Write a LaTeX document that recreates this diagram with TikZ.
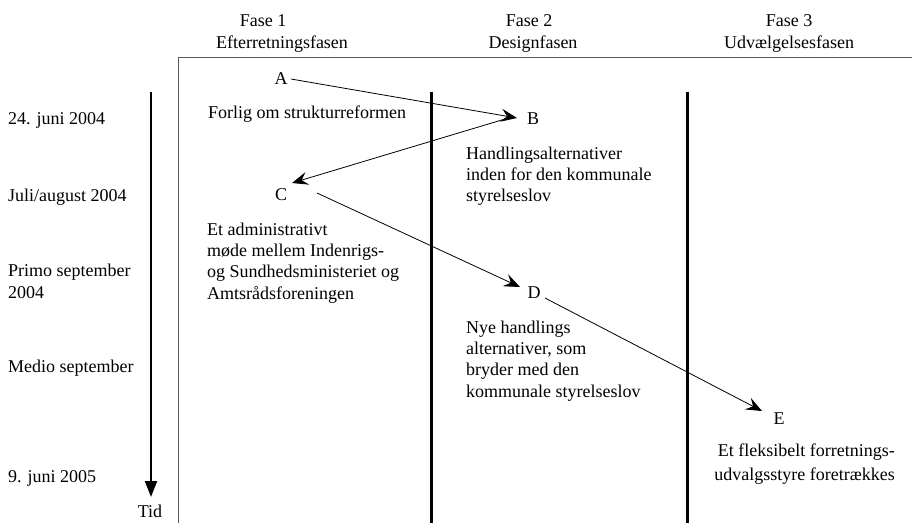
\documentclass[tikz,border=0pt]{standalone}
\usepackage{fontspec}
\setmainfont{Liberation Serif}
\usetikzlibrary{arrows.meta}
\begin{document}
\begin{tikzpicture}[x=1pt,y=-1pt,
  txt/.style={anchor=base west, inner sep=0pt, font=\fontsize{18}{21}\selectfont},
  rtxt/.style={anchor=base east, inner sep=0pt, font=\fontsize{18}{21}\selectfont},
  ctr/.style={anchor=base, inner sep=0pt, font=\fontsize{18}{21}\selectfont},
  conn/.style={line width=0.8pt, -{Stealth[length=16pt,width=13pt,inset=6pt]}},
  phase/.style={line width=3pt},
  frame/.style={draw=black!65, line width=1pt}]
\useasboundingbox (0,0) rectangle (912,523);
% headers
\node[ctr] (f1) at (263,26) {Fase 1};
\node[ctr] (f1b) at (282,48) {Efterretningsfasen};
\node[ctr] (f2) at (529,26) {Fase 2};
\node[ctr] (f2b) at (533,48) {Designfasen};
\node[ctr] (f3) at (789,26) {Fase 3};
\node[ctr] (f3b) at (789,48) {Udvælgelsesfasen};
% frame and phase lines
\draw[frame] (912,57) -- (178,57) -- (178,523);
\draw[phase] (431,92) -- (431,523);
\draw[phase] (687,92) -- (687,523);
% time axis
\coordinate (t0) at (151,92);
\coordinate (t1) at (151,497);
\draw[line width=2pt, -{Triangle[length=16pt,width=12pt]}] (t0) -- (t1);
\node[ctr] (tid) at (150,517) {Tid};
% dates
\node[txt] (d1) at (8,124) {24. juni 2004};
\node[txt] (d2) at (8,201) {Juli/august 2004};
\node[txt] (d3) at (8,276) {Primo september};
\node[txt] (d3b) at (8,298) {2004};
\node[txt] (d4) at (8,372) {Medio september};
\node[txt] (d5) at (8,482) {9. juni 2005};
% letters
\node[ctr] (A) at (281,84) {A};
\node[ctr] (B) at (533,124) {B};
\node[ctr] (C) at (281,200) {C};
\node[ctr] (D) at (534,298) {D};
\node[ctr] (E) at (779,424) {E};
% descriptions
\node[txt] (tA) at (208,118) {Forlig om strukturreformen};
\node[txt] (tB1) at (466,159) {Handlingsalternativer};
\node[txt] (tB2) at (466,180) {inden for den kommunale};
\node[txt] (tB3) at (466,201) {styrelseslov};
\node[txt] (tC1) at (207,235) {Et administrativt};
\node[txt] (tC2) at (207,256) {møde mellem Indenrigs-};
\node[txt] (tC3) at (207,277) {og Sundhedsministeriet og};
\node[txt] (tC4) at (207,299) {Amtsrådsforeningen};
\node[txt] (tD1) at (466,333) {Nye handlings};
\node[txt] (tD2) at (466,354) {alternativer, som};
\node[txt] (tD3) at (466,375) {bryder med den};
\node[txt] (tD4) at (466,397) {kommunale styrelseslov};
\node[rtxt] (tE1) at (895,456) {Et fleksibelt forretnings-};
\node[rtxt] (tE2) at (895,480) {udvalgsstyre foretrækkes};
% connector end points
\coordinate (a1) at (291,79);
\coordinate (pB) at (517,118);
\coordinate (b1) at (505,119);
\coordinate (pC) at (292,183);
\coordinate (c1) at (317,193);
\coordinate (pD) at (520,287);
\coordinate (d1e) at (545,298);
\coordinate (pE) at (762,411);
\draw[conn] (a1) -- (pB);
\draw[conn] (b1) -- (pC);
\draw[conn] (c1) -- (pD);
\draw[conn] (d1e) -- (pE);
\end{tikzpicture}
\end{document}
